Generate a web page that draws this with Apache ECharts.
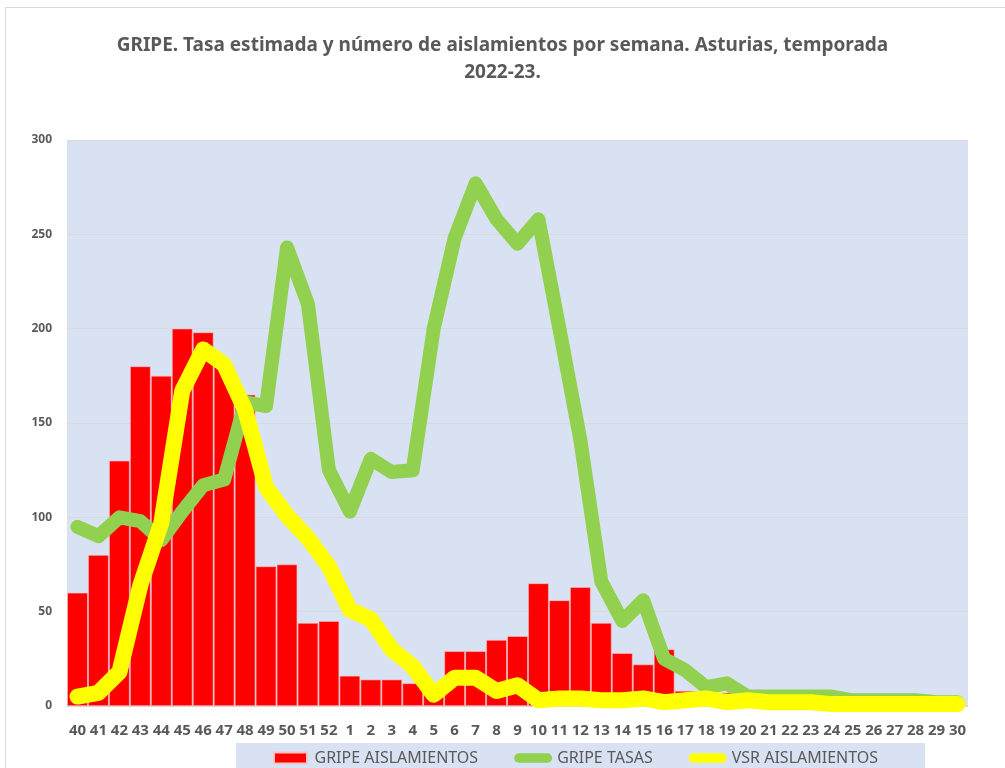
<!DOCTYPE html>
<html>
<head>
<meta charset="utf-8">
<title>GRIPE Asturias 2022-23</title>
<script src="https://cdn.jsdelivr.net/npm/echarts@6/dist/echarts.min.js"></script>
<style>
  html, body { margin: 0; padding: 0; background: #ffffff; }
  #chart { width: 1005px; height: 768px; }
</style>
</head>
<body>
<div id="chart"></div>
<script>
// semanas epidemiologicas 40..52 y 1..30
var weeks = ['40','41','42','43','44','45','46','47','48','49','50','51','52',
  '1','2','3','4','5','6','7','8','9','10','11','12','13','14','15','16','17','18','19','20',
  '21','22','23','24','25','26','27','28','29','30'];

var gripeAislamientos = [60, 80, 130, 180, 175, 200, 198, 180, 165, 74, 75, 44, 45,
  16, 14, 14, 12, 6, 29, 29, 35, 37, 65, 56, 63, 44, 28, 22, 30, 8, 3, 7, 2,
  1, 1, 1, 1, 0, 0, 0, 0, 0, 0];

var gripeTasas = [95, 90, 100, 98, 88, 103, 117, 120, 161, 159, 243, 213, 125,
  103, 131, 124, 125, 200, 248, 277, 258, 245, 258, 200, 141, 66, 45, 56, 25, 19, 10, 12, 5,
  5, 5, 5, 5, 3, 3, 3, 3, 2, 2];

var vsrAislamientos = [5, 7, 18, 64, 97, 167, 189, 181, 157, 116, 101, 89, 74,
  51, 46, 30, 21, 6, 15, 15, 8, 11, 3, 4, 4, 3, 3, 4, 2, 3, 4, 2, 3,
  2, 2, 2, 1, 1, 1, 1, 1, 1, 1];

var yTicks = [0, 50, 100, 150, 200, 250, 300];

var textColor = '#595959';
var capsule = 'path://M5,0 L35,0 A5,5 0 0 1 35,10 L5,10 A5,5 0 0 1 5,0 Z';

var chart = echarts.init(document.getElementById('chart'));
var option = {
  animation: false,
  backgroundColor: '#ffffff',
  textStyle: { fontFamily: 'Noto Sans' },
  title: {
    text: 'GRIPE. Tasa estimada y número de aislamientos por semana. Asturias, temporada\n2022-23.',
    left: 'center',
    top: 27,
    textStyle: {
      color: textColor,
      fontSize: 19,
      fontWeight: 'bold',
      lineHeight: 27,
      fontFamily: 'Noto Sans'
    }
  },
  // marco del grafico y fondo de la leyenda
  graphic: [
    {
      type: 'rect',
      shape: { x: 5.5, y: 7.5, width: 1010, height: 770 },
      style: { fill: 'none', stroke: '#d9d9d9', lineWidth: 1 },
      silent: true,
      z: -10
    },
    {
      type: 'rect',
      shape: { x: 236, y: 743, width: 689, height: 30 },
      style: { fill: '#D9E2F3' },
      silent: true,
      z: -5
    }
  ],
  grid: {
    left: 67,
    right: 37,
    top: 140,
    bottom: 62,
    show: true,
    backgroundColor: '#D9E2F3',
    borderWidth: 0
  },
  legend: {
    left: 268,
    top: 745,
    itemGap: 36,
    itemWidth: 38,
    itemHeight: 11,
    textStyle: { color: textColor, fontSize: 16, fontFamily: 'Noto Sans' },
    data: [
      { name: 'GRIPE AISLAMIENTOS', icon: 'path://M4,0 L34,0 L34,10 L4,10 Z' },
      { name: 'GRIPE TASAS', icon: capsule },
      { name: 'VSR AISLAMIENTOS', icon: capsule }
    ]
  },
  xAxis: {
    type: 'category',
    data: weeks,
    axisTick: { show: false },
    axisLine: { lineStyle: { color: '#d9d9d9' } },
    axisLabel: {
      interval: 0,
      margin: 17,
      color: textColor,
      fontSize: 15,
      fontWeight: 'bold'
    }
  },
  yAxis: {
    type: 'value',
    min: yTicks[0],
    max: yTicks[yTicks.length - 1],
    interval: 50,
    axisLine: { show: false },
    axisTick: { show: false },
    axisLabel: {
      margin: 15,
      color: textColor,
      fontSize: 12,
      fontWeight: 'bold'
    },
    splitLine: { lineStyle: { color: '#d9d9d9', width: 1 } }
  },
  series: [
    {
      name: 'GRIPE AISLAMIENTOS',
      type: 'bar',
      data: gripeAislamientos,
      barCategoryGap: '2%',
      itemStyle: { color: '#FF0000', borderColor: '#f6c4c4', borderWidth: 0.6 }
    },
    {
      name: 'GRIPE TASAS',
      type: 'line',
      data: gripeTasas,
      showSymbol: false,
      symbol: 'none',
      clip: false,
      lineStyle: { color: '#92D050', width: 14, cap: 'round', join: 'round' },
      itemStyle: { color: '#92D050' }
    },
    {
      name: 'VSR AISLAMIENTOS',
      type: 'line',
      data: vsrAislamientos,
      showSymbol: false,
      symbol: 'none',
      clip: false,
      lineStyle: { color: '#FFFF00', width: 16, cap: 'round', join: 'round' },
      itemStyle: { color: '#FFFF00' }
    }
  ]
};
chart.setOption(option, true);
</script>
</body>
</html>
